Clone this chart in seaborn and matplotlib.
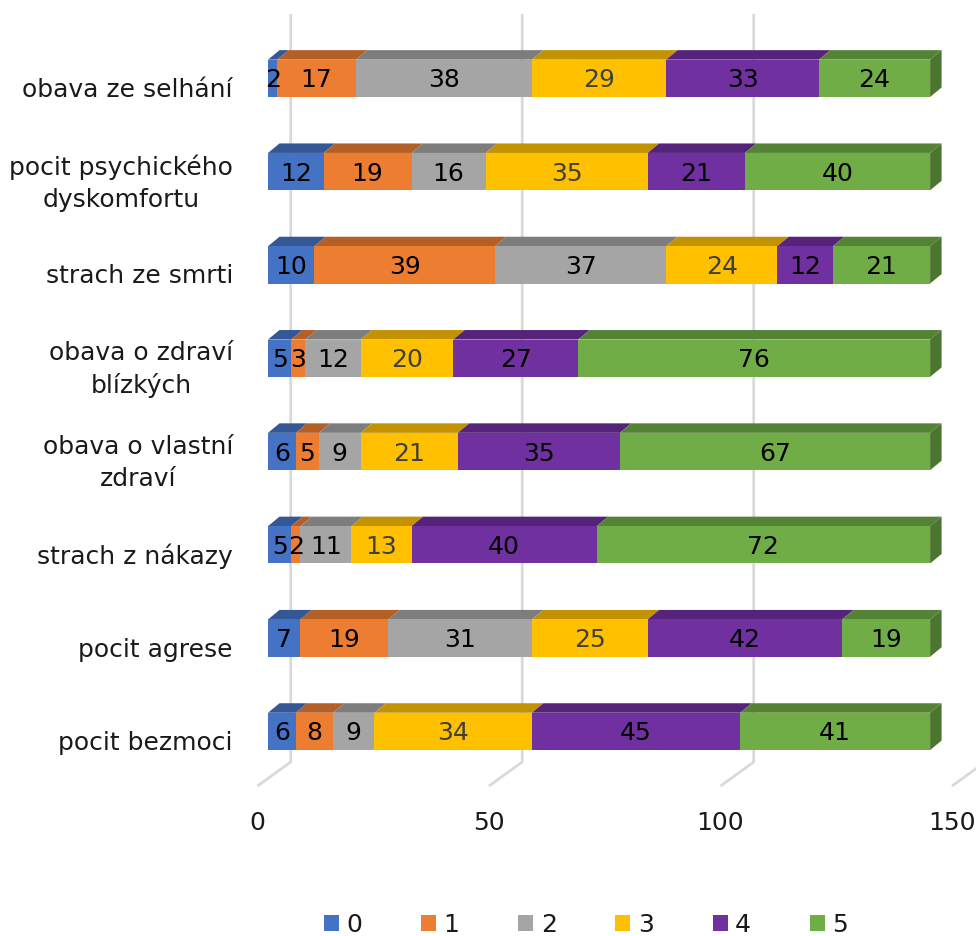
import numpy as np
import pandas as pd
import matplotlib
matplotlib.use("Agg")
import matplotlib.pyplot as plt
import matplotlib.colors as mcolors
from matplotlib.patches import Polygon
import seaborn as sns

# ---- data -------------------------------------------------------------
categories = [
    "obava ze selhání",
    "pocit psychického\ndyskomfortu",
    "strach ze smrti",
    "obava o zdraví\nblízkých",
    "obava o vlastní\nzdraví",
    "strach z nákazy",
    "pocit agrese",
    "pocit bezmoci",
]
levels = ["0", "1", "2", "3", "4", "5"]
score_0 = [2, 12, 10, 5, 6, 5, 7, 6]
score_1 = [17, 19, 39, 3, 5, 2, 19, 8]
score_2 = [38, 16, 37, 12, 9, 11, 31, 9]
score_3 = [29, 35, 24, 20, 21, 13, 25, 34]
score_4 = [33, 21, 12, 27, 35, 40, 42, 45]
score_5 = [24, 40, 21, 76, 67, 72, 19, 41]
x_ticks = [0, 50, 100, 150]

series = [score_0, score_1, score_2, score_3, score_4, score_5]
colors = ["#4472C4", "#ED7D31", "#A5A5A5", "#FFC000", "#7030A0", "#70AD47"]
label_colors = ["black", "black", "black", "#404040", "black", "black"]

df = pd.DataFrame({"kategorie": categories})
for lvl, vals in zip(levels, series):
    df[lvl] = vals

# ---- style ------------------------------------------------------------
sns.set_style("white")
FONT = ["DejaVu Sans"]
plt.rcParams["font.family"] = FONT
FS = 18

W, H = 976, 936
fig = plt.figure(figsize=(W / 100, H / 100), dpi=100)
ax = fig.add_axes([0, 0, 1, 1])

# pixel geometry of the oblique 3D view
PX_UNIT = 4.63       # pixels per value unit on the front plane
X0 = 268.0           # pixel x of value 0 on the bar front faces
Y0 = 78.3            # pixel y of first category centre
ROW = 93.3           # pixel distance between categories


def ux(px):
    return px / PX_UNIT


def uy(px):
    return px / ROW


bar_h = 0.4
depth_dx, depth_dy = ux(11.5), uy(-9.5)          # bar depth
wall_dx = ux(290.7 - X0)                          # back wall offset
floor_dx = ux(257.5 - X0)                         # front edge of floor
grid_top = uy(14 - Y0)
grid_back = uy(762 - Y0)
grid_front = uy(786 - Y0)


def shade(c, f):
    r, g, b = mcolors.to_rgb(c)
    return (r * f, g * f, b * f)


# ---- back wall and floor grid -----------------------------------------
for v in x_ticks:
    ax.plot([v + wall_dx, v + wall_dx, v + floor_dx],
            [grid_top, grid_back, grid_front],
            color="#D9D9D9", lw=2.0, zorder=0, solid_capstyle="butt")
    ax.text(v + floor_dx, uy(822.7 - Y0), str(v), ha="center", va="center",
            fontsize=FS, color="#1a1a1a")

# ---- stacked bars: front faces ----------------------------------------
left = np.zeros(len(categories))
for lvl, col in zip(levels, colors):
    sns.barplot(data=df, x=lvl, y="kategorie", orient="h", color=col,
                saturation=1, left=left.copy(), width=bar_h, errorbar=None,
                linewidth=0, label=lvl, ax=ax, zorder=3)
    left += df[lvl].to_numpy()

# ---- top and side faces, value labels ----------------------------------
left = np.zeros(len(categories))
for k, (lvl, col) in enumerate(zip(levels, colors)):
    vals = df[lvl].to_numpy()
    for i, v in enumerate(vals):
        l = left[i]
        top = i - bar_h / 2
        ax.add_patch(Polygon(
            [(l, top), (l + v, top), (l + v + depth_dx, top + depth_dy),
             (l + depth_dx, top + depth_dy)],
            closed=True, facecolor=shade(col, 0.76), edgecolor="none",
            zorder=2))
        if k == len(levels) - 1:
            r = l + v
            bot = i + bar_h / 2
            ax.add_patch(Polygon(
                [(r, top), (r + depth_dx, top + depth_dy),
                 (r + depth_dx, bot + depth_dy), (r, bot)],
                closed=True, facecolor=shade(col, 0.68), edgecolor="none",
                zorder=2))
        ax.text(l + v / 2, i + uy(2.0), str(v), ha="center", va="center",
                fontsize=FS, color=label_colors[k], zorder=5)
    left += vals

# ---- category labels ----------------------------------------------------
for i, cat in enumerate(categories):
    ax.text(ux(233 - X0), i + uy(11.5), cat, ha="right", va="center",
            multialignment="center", fontsize=FS, color="#1a1a1a",
            linespacing=1.4)

# ---- axes limits mapping data to pixels ------------------------------------
ax.set_xlim(ux(0 - X0), ux(W - X0))
ax.set_ylim(uy(H - Y0), uy(0 - Y0))
ax.set_axis_off()

handles, labels = ax.get_legend_handles_labels()
leg = ax.legend(handles, labels, ncol=6, loc="center",
                bbox_to_anchor=(586 / W, 1 - 925 / H),
                bbox_transform=fig.transFigure, frameon=False,
                fontsize=FS, handlelength=0.6, handleheight=0.6,
                handletextpad=0.3, columnspacing=2.35, borderaxespad=0)
for t in leg.get_texts():
    t.set_color("#1a1a1a")

fig.savefig("out.png", dpi=100)
